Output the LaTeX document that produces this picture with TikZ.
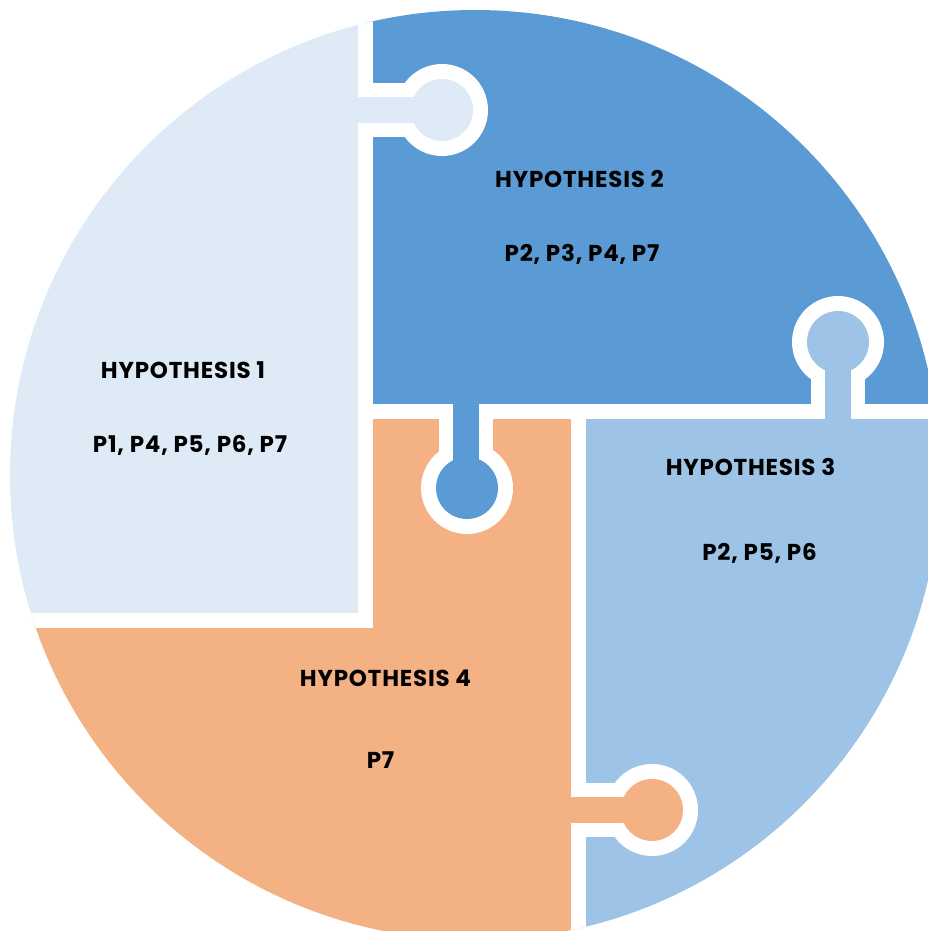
\documentclass[tikz,border=0pt]{standalone}
\usepackage{fontspec}
\setmainfont{Poppins}
\newfontfamily\lblfont{Poppins}[LetterSpace=3.5]
\definecolor{hone}{HTML}{DEEBF7}
\definecolor{htwo}{HTML}{5B9BD5}
\definecolor{hthree}{HTML}{9DC3E6}
\definecolor{hfour}{HTML}{F4B183}
\begin{document}
\begin{tikzpicture}[x=1pt,y=-1pt,
  lbl/.style={font=\lblfont\bfseries\fontsize{23}{27}\selectfont, text=black, inner sep=0pt, anchor=base},
  gap/.style={white, line width=15pt}]
\useasboundingbox (0,0) rectangle (928,931);
\begin{scope}
\clip (475,475) circle [radius=465pt];
% pieces
\fill[hone] (0,0) rectangle (365,620);
\fill[htwo] (365,0) rectangle (940,411);
\fill[hthree] (578,411) rectangle (940,940);
\fill[hfour] (0,620) rectangle (578,940);
\fill[hfour] (365,411) rectangle (578,620);
% dividers
\draw[gap, line join=miter] (365,-10) -- (365,620) -- (-10,620);
\draw[gap] (365,411) -- (940,411);
\draw[gap] (578,411) -- (578,940);
% knob outlines
\fill[white] (365,83) rectangle (442,137);
\fill[white] (442,110) circle [radius=46pt];
\fill[white] (439,411) rectangle (493,488);
\fill[white] (467,488) circle [radius=46pt];
\fill[white] (811,411) rectangle (865,342);
\fill[white] (838,342) circle [radius=46pt];
\fill[white] (578,783) rectangle (652,837);
\fill[white] (652,810) circle [radius=46pt];
% knobs
\fill[hone] (340,97) rectangle (442,123);
\fill[hone] (442,110) circle [radius=31pt];
\fill[htwo] (453,395) rectangle (479,488);
\fill[htwo] (467,488) circle [radius=31pt];
\fill[hthree] (825,430) rectangle (851,342);
\fill[hthree] (838,342) circle [radius=31pt];
\fill[hfour] (560,797) rectangle (652,823);
\fill[hfour] (652,810) circle [radius=31pt];
\end{scope}
% labels
\node[lbl] (h1t) at (183,378) {HYPOTHESIS 1};
\node[lbl] (h1p) at (190,452) {P1, P4, P5, P6, P7};
\node[lbl] (h2t) at (579.5,187) {HYPOTHESIS 2};
\node[lbl] (h2p) at (582,261) {P2, P3, P4, P7};
\node[lbl] (h3t) at (750.5,475) {HYPOTHESIS 3};
\node[lbl] (h3p) at (759.5,560) {P2, P5, P6};
\node[lbl] (h4t) at (385.5,686) {HYPOTHESIS 4};
\node[lbl] (h4p) at (380.5,768) {P7};
\end{tikzpicture}
\end{document}
